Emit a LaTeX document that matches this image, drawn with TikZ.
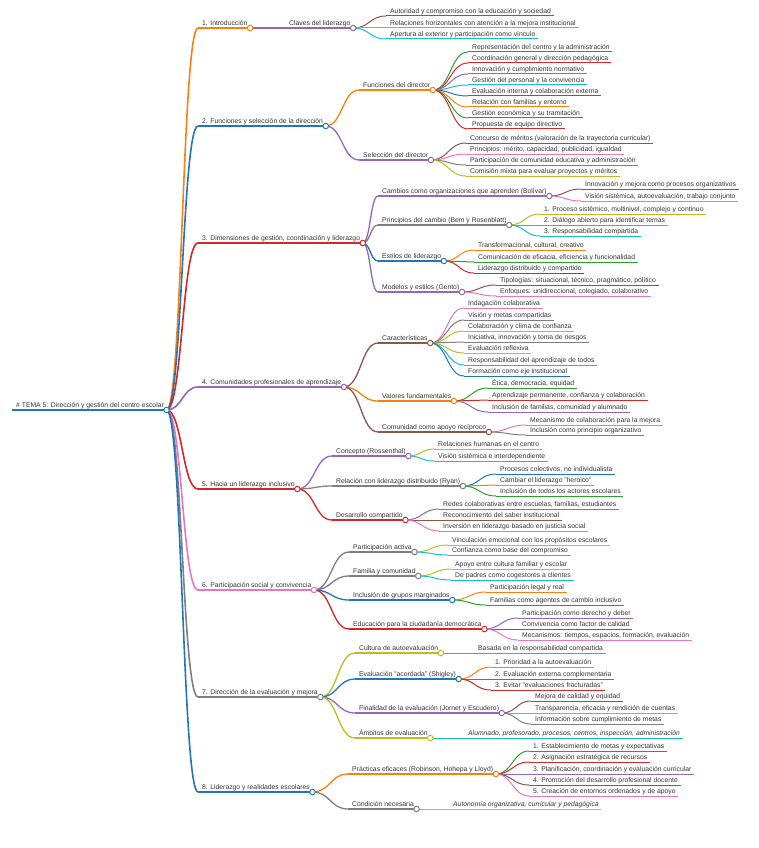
\documentclass[tikz,border=0pt]{standalone}
\usepackage{fontspec}
\setmainfont{Liberation Sans}
\usepackage{tikz}
\usetikzlibrary{calc,positioning}
\pgfdeclarelayer{background layer}
\pgfsetlayers{background layer,main}
\definecolor{mmblue}{HTML}{1F77B4}
\definecolor{mmorange}{HTML}{FF7F0E}
\definecolor{mmgreen}{HTML}{2CA02C}
\definecolor{mmred}{HTML}{D62728}
\definecolor{mmpurple}{HTML}{9467BD}
\definecolor{mmbrown}{HTML}{8C564B}
\definecolor{mmpink}{HTML}{E377C2}
\definecolor{mmgray}{HTML}{7F7F7F}
\definecolor{mmolive}{HTML}{BCBD22}
\definecolor{mmcyan}{HTML}{17BECF}
\tikzset{
	mmtext/.style={anchor=base west,inner sep=0pt,text=black!80,font=\fontsize{6.8}{8}\selectfont},
	mmdot/.style={circle,fill=white,line width=1pt,minimum size=5.5pt,inner sep=0pt},
	lvl1/.style={line width=1.6pt},
	lvl2/.style={line width=1.3pt},
	lvl3/.style={line width=1pt}
}
\newcommand{\topic}[6]{%
	\coordinate (#1-s) at (#2,#3);
	\node[mmtext] (#1-t) at ([shift={(4,-2.6)}]#1-s) {#6};
	\coordinate (#1) at ([xshift=2.5pt]#1-t.base east |- #1-s);
	\draw[#5,color=#4] (#1-s) -- (#1);}
\newcommand{\branch}[4]{%
	\begin{pgfonlayer}{background layer}
	\draw[#4,color=#3] let \p1=(#1), \p2=(#2-s) in
		(\p1) .. controls ({(\x1+\x2)/2},\y1) and ({(\x1+\x2)/2},\y2) .. (\p2);
	\end{pgfonlayer}}
\newcommand{\hub}[2]{\node[mmdot,draw=#2] (#1-k) at (#1) {};}
\newcommand{\subtopic}[6]{%
	\topic{#2}{#3}{#4}{#5}{lvl2}{#6}
	\branch{#1}{#2}{#5}{lvl2}
	\hub{#2}{#5}}
\newcommand{\leaves}[3]{%
	\foreach \y/\col/\txt [count=\i] in {#3}{
		\topic{#1-\i}{#2}{\y}{\col}{lvl3}{\txt}
		\branch{#1}{#1-\i}{\col}{lvl3}}}
\begin{document}
\begin{tikzpicture}[x=1pt,y=-1pt]
\useasboundingbox (0,0) rectangle (758,848);
\topic{root}{12}{410}{mmblue}{lvl1}{\# TEMA 5: Dirección y gestión del centro escolar}
\hub{root}{mmblue}
\foreach \nm/\y/\col/\txt in {
	n1/28/mmorange/{1. Introducción},
	n2/126/mmblue/{2. Funciones y selección de la dirección},
	n3/243/mmred/{3. Dimensiones de gestión, coordinación y liderazgo},
	n4/387/mmpurple/{4. Comunidades profesionales de aprendizaje},
	n5/489/mmred/{5. Hacia un liderazgo inclusivo},
	n6/590/mmpink/{6. Participación social y convivencia},
	n7/697/mmgray/{7. Dirección de la evaluación y mejora},
	n8/792/mmblue/{8. Liderazgo y realidades escolares}}{
	\topic{\nm}{198}{\y}{\col}{lvl1}{\txt}
	\branch{root}{\nm}{\col}{lvl1}
	\hub{\nm}{\col}}

\subtopic{n1}{n11}{285}{28}{mmpurple}{Claves del liderazgo}
\leaves{n11}{386}{16/mmbrown/{Autoridad y compromiso con la educación y sociedad},
	28/mmpink/{Relaciones horizontales con atención a la mejora institucional},
	39/mmcyan/{Apertura al exterior y participación como vínculo}}

\subtopic{n2}{n21}{359}{90}{mmorange}{Funciones del director}
\leaves{n21}{468}{52/mmgreen/{Representación del centro y la administración},
	63/mmred/{Coordinación general y dirección pedagógica},
	74/mmpurple/{Innovación y cumplimiento normativo},
	85/mmcyan/{Gestión del personal y la convivencia},
	96/mmblue/{Evaluación interna y colaboración externa},
	107/mmorange/{Relación con familias y entorno},
	118/mmgreen/{Gestión económica y su tramitación},
	129/mmred/{Propuesta de equipo directivo}}
\subtopic{n2}{n22}{359}{160}{mmpurple}{Selección del director}
\leaves{n22}{466}{143/mmbrown/{Concurso de méritos (valoración de la trayectoria curricular)},
	154/mmpink/{Principios: mérito, capacidad, publicidad, igualdad},
	165/mmgray/{Participación de comunidad educativa y administración},
	176/mmolive/{Comisión mixta para evaluar proyectos y méritos}}

\subtopic{n3}{n31}{378}{196}{mmpurple}{Cambios como organizaciones que aprenden (Bolívar)}
\leaves{n31}{581}{189/mmbrown/{Innovación y mejora como procesos organizativos},
	201/mmpink/{Visión sistémica, autoevaluación, trabajo conjunto}}
\subtopic{n3}{n32}{378}{225}{mmgray}{Principios del cambio (Bem y Rosenblatt)}
\leaves{n32}{540}{214/mmolive/{1. Proceso sistémico, multinivel, complejo y continuo},
	225/mmcyan/{2. Diálogo abierto para identificar temas},
	236/mmcyan/{3. Responsabilidad compartida}}
\subtopic{n3}{n33}{378}{261}{mmblue}{Estilos de liderazgo}
\leaves{n33}{474}{250/mmorange/{Transformacional, cultural, creativo},
	262/mmgreen/{Comunicación de eficacia, eficiencia y funcionalidad},
	273/mmred/{Liderazgo distribuido y compartido}}
\subtopic{n3}{n34}{378}{292}{mmpurple}{Modelos y estilos (Gento)}
\leaves{n34}{496}{285/mmbrown/{Tipologías: situacional, técnico, pragmático, político},
	296/mmpink/{Enfoques: unidireccional, colegiado, colaborativo}}

\subtopic{n4}{n41}{378}{343}{mmbrown}{Características}
\leaves{n41}{464}{308/mmpink/{Indagación colaborativa},
	320/mmgray/{Visión y metas compartidas},
	331/mmolive/{Colaboración y clima de confianza},
	342/mmgray/{Iniciativa, innovación y toma de riesgos},
	353/mmolive/{Evaluación reflexiva},
	365/mmcyan/{Responsabilidad del aprendizaje de todos},
	376/mmblue/{Formación como eje institucional}}
\subtopic{n4}{n42}{378}{401}{mmorange}{Valores fundamentales}
\leaves{n42}{488}{388/mmgreen/{Ética, democracia, equidad},
	400/mmred/{Aprendizaje permanente, confianza y colaboración},
	412/mmpurple/{Inclusión de familias, comunidad y alumnado}}
\subtopic{n4}{n43}{378}{432}{mmbrown}{Comunidad como apoyo recíproco}
\leaves{n43}{526}{425/mmpink/{Mecanismo de colaboración para la mejora},
	435/mmgray/{Inclusión como principio organizativo}}

\subtopic{n5}{n51}{332}{456}{mmpurple}{Concepto (Rossenthal)}
\leaves{n51}{434}{449/mmolive/{Relaciones humanas en el centro},
	461/mmcyan/{Visión sistémica e interdependiente}}
\subtopic{n5}{n52}{332}{486}{mmgray}{Relación con liderazgo distribuido (Ryan)}
\leaves{n52}{496}{474/mmblue/{Procesos colectivos, no individualista},
	485/mmorange/{Cambiar el liderazgo "heroico"},
	496/mmgreen/{Inclusión de todos los actores escolares}}
\subtopic{n5}{n53}{332}{520}{mmred}{Desarrollo compartido}
\leaves{n53}{439}{509/mmpurple/{Redes colaborativas entre escuelas, familias, estudiantes},
	520/mmbrown/{Reconocimiento del saber institucional},
	531/mmpink/{Inversión en liderazgo basado en justicia social}}

\subtopic{n6}{n61}{349}{552}{mmgray}{Participación activa}
\leaves{n61}{448}{545/mmolive/{Vinculación emocional con los propósitos escolares},
	555/mmcyan/{Confianza como base del compromiso}}
\subtopic{n6}{n62}{349}{576}{mmgray}{Familia y comunidad}
\leaves{n62}{451}{569/mmolive/{Apoyo entre cultura familiar y escolar},
	580/mmcyan/{De padres como cogestores a clientes}}
\subtopic{n6}{n63}{349}{600}{mmblue}{Inclusión de grupos marginados}
\leaves{n63}{486}{592/mmorange/{Participación legal y real},
	605/mmgreen/{Familias como agentes de cambio inclusivo}}
\subtopic{n6}{n64}{349}{629}{mmred}{Educación para la ciudadanía democrática}
\leaves{n64}{518}{618/mmpurple/{Participación como derecho y deber},
	629/mmbrown/{Convivencia como factor de calidad},
	640/mmpink/{Mecanismos: tiempos, espacios, formación, evaluación}}

\subtopic{n7}{n71}{355}{653}{mmolive}{Cultura de autoevaluación}
\leaves{n71}{474}{653/mmcyan/{Basada en la responsabilidad compartida}}
\subtopic{n7}{n72}{355}{679}{mmblue}{Evaluación "acordada" (Shigley)}
\leaves{n72}{491}{667/mmorange/{1. Prioridad a la autoevaluación},
	679/mmgreen/{2. Evaluación externa complementaria},
	690/mmred/{3. Evitar "evaluaciones fracturadas"}}
\subtopic{n7}{n73}{355}{713}{mmpurple}{Finalidad de la evaluación (Jornet y Escudero)}
\leaves{n73}{531}{701/mmbrown/{Mejora de calidad y equidad},
	713/mmpink/{Transparencia, eficacia y rendición de cuentas},
	724/mmgray/{Información sobre cumplimiento de metas}}
\subtopic{n7}{n74}{355}{738}{mmolive}{Ámbitos de evaluación}
\leaves{n74}{464}{738/mmcyan/{{\itshape Alumnado, profesorado, procesos, centros, inspección, administración}}}

\subtopic{n8}{n81}{348}{774}{mmorange}{Prácticas eficaces (Robinson, Hohepa y Lloyd)}
\leaves{n81}{529}{751/mmgreen/{1. Establecimiento de metas y expectativas},
	762/mmred/{2. Asignación estratégica de recursos},
	774/mmpurple/{3. Planificación, coordinación y evaluación curricular},
	785/mmbrown/{4. Promoción del desarrollo profesional docente},
	796/mmpink/{5. Creación de entornos ordenados y de apoyo}}
\subtopic{n8}{n82}{348}{809}{mmgray}{Condición necesaria}
\leaves{n82}{449}{809/mmolive/{{\itshape Autonomía organizativa, curricular y pedagógica}}}
\end{tikzpicture}
\end{document}
